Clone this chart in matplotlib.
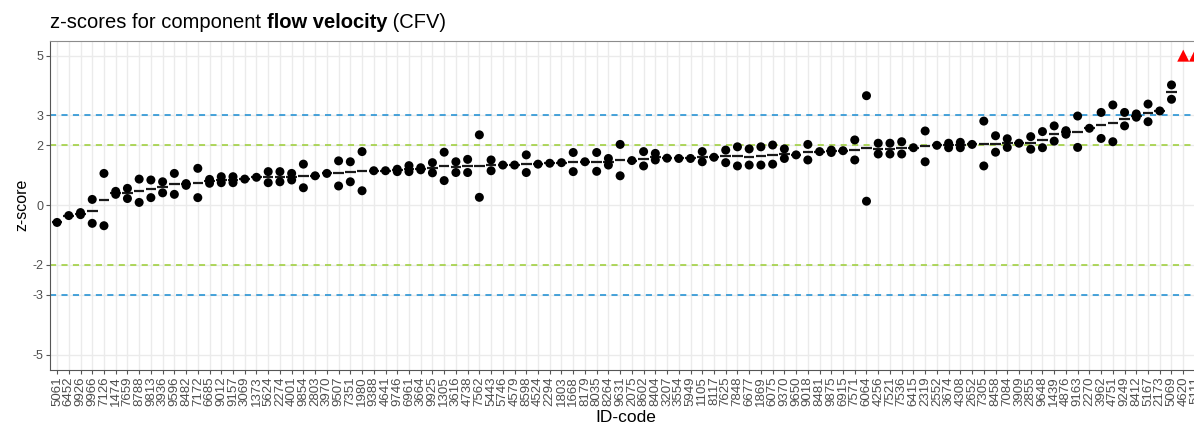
import numpy as np
import matplotlib
matplotlib.use("Agg")
from matplotlib import pyplot as plt

plt.rcParams['font.family'] = ['Liberation Sans', 'DejaVu Sans']
plt.rcParams['axes.unicode_minus'] = False

# lab codes, ordered as on the x axis
labs = ["5061", "6452", "9926", "9966", "7126", "1474", "7659", "8788", "9813", "3936",
        "9596", "8482", "7172", "6685", "9012", "9157", "3069", "1373", "5624", "2274",
        "4001", "9854", "2803", "3970", "9507", "7351", "1980", "9388", "4641", "9746",
        "6961", "3664", "9925", "1305", "3616", "4738", "7562", "5443", "5746", "4579",
        "8598", "4524", "2294", "1803", "1668", "8179", "8035", "8264", "9631", "2075",
        "8602", "8404", "3207", "3554", "5949", "1105", "8117", "7625", "7848", "6677",
        "1869", "6075", "9370", "9650", "9018", "8481", "9875", "6915", "7571", "6064",
        "4256", "7521", "7536", "6415", "2319", "2552", "3674", "4308", "2652", "7305",
        "8458", "7084", "3909", "2855", "9648", "1439", "4876", "9163", "2270", "3962",
        "4751", "9249", "8412", "5167", "2173", "5069", "4620", "5111"]

nan = np.nan
# first and second replicate z-scores (nan = only one point visible)
z_rep1 = [-0.58, -0.35, -0.25, 0.19, 1.06, 0.46, 0.56, 0.87, 0.84, 0.78,
          1.06, 0.72, 1.23, 0.86, 0.95, 0.95, 0.87, 0.93, 1.12, 1.12,
          1.06, 1.37, 0.98, 1.06, 1.48, 1.45, 1.79, 1.15, 1.15, 1.20,
          1.32, 1.25, 1.42, 1.77, 1.45, 1.53, 2.35, 1.51, 1.34, 1.34,
          1.68, 1.37, 1.40, 1.42, 1.76, 1.45, 1.76, 1.56, 2.03, 1.49,
          1.79, 1.73, 1.57, 1.56, 1.56, 1.79, 1.60, 1.84, 1.95, 1.88,
          1.95, 2.01, 1.88, 1.68, 2.03, 1.79, 1.84, 1.82, 2.18, 3.66,
          2.07, 2.07, 2.12, 1.92, 2.48, 2.00, 2.07, 2.10, 2.03, 2.81,
          2.32, 2.22, 2.07, 2.29, 2.46, 2.65, 2.49, 2.98, 2.57, 3.10,
          3.35, 3.10, 3.05, 3.38, 3.15, 4.02, 7.0, 7.0]
z_rep2 = [nan, nan, -0.32, -0.61, -0.69, 0.36, 0.22, 0.09, 0.25, 0.41,
          0.36, 0.66, 0.25, 0.73, 0.75, 0.75, nan, nan, 0.75, 0.78,
          0.84, 0.58, nan, nan, 0.64, 0.78, 0.48, nan, nan, 1.12,
          1.12, 1.18, 1.08, 0.82, 1.09, 1.09, 0.26, 1.15, nan, nan,
          1.09, nan, nan, nan, 1.12, nan, 1.13, 1.34, 0.98, nan,
          1.31, 1.51, nan, nan, nan, 1.45, nan, 1.42, 1.31, 1.34,
          1.34, 1.37, 1.56, nan, 1.51, nan, 1.76, nan, 1.51, 0.13,
          1.71, 1.71, 1.71, nan, 1.45, nan, 1.92, 1.92, nan, 1.31,
          1.77, 1.93, nan, 1.87, 1.92, 2.14, 2.37, 1.93, nan, 2.23,
          2.12, 2.65, 2.94, 2.79, nan, 3.54, nan, nan]

y_ticks = [-5, -3, -2, 0, 2, 3, 5]
z_limit = 5

z = np.array([z_rep1, z_rep2], dtype=float).T
x = np.arange(len(labs))
mean_z = np.nanmean(z, axis=1)
inside = mean_z <= z_limit

fig = plt.figure(figsize=(11.94, 4.23), dpi=100)
# panel runs off the right edge like the reference
ax = fig.add_axes([50 / 1194, 1 - 369.5 / 423, 1152 / 1194, (369.5 - 40.7) / 423])

ax.set_xlim(-0.6, len(labs) - 0.4)
ax.set_ylim(-5.5, 5.5)

for xi in x:
    ax.axvline(xi, color="#ebebeb", lw=1.0, zorder=0)
for yt in y_ticks:
    ax.axhline(yt, color="#ebebeb", lw=1.0, zorder=0)

for v, c in [(2, "#9acd32"), (-2, "#9acd32"), (3, "#168bd2"), (-3, "#168bd2")]:
    ax.axhline(v, color=c, lw=1.1, ls=(0, (4, 3.5)), zorder=1)

# mean per lab
ax.hlines(mean_z[inside], x[inside] - 0.45, x[inside] + 0.45, color="#1a1a1a", lw=1.6, zorder=2)
for k in range(z.shape[1]):
    ax.scatter(x[inside], z[inside, k], s=42, color="black", edgecolors="none", zorder=3)
# values beyond the scale shown as triangles on the limit
ax.scatter(x[~inside], np.full((~inside).sum(), z_limit), marker="^", s=75,
           color="red", edgecolors="none", zorder=3, clip_on=False)

ax.set_xticks(x)
ax.set_xticklabels(labs, rotation=90, ha="center", va="top")
ax.set_yticks(y_ticks)
ax.tick_params(axis="both", colors="#555555", labelcolor="#4d4d4d", labelsize=9,
               length=3, width=0.8, pad=2)
ax.tick_params(axis="x", labelsize=9.5)
for s in ax.spines.values():
    s.set_color("#8c8c8c")
    s.set_linewidth(0.8)
ax.spines["left"].set_color("#555555")
ax.spines["bottom"].set_color("#555555")

ax.set_ylabel("z-score", fontsize=11.5, labelpad=2)
ax.set_xlabel("ID-code", fontsize=12.5, labelpad=3)

t1 = fig.text(50 / 1194, 1 - 28 / 423, "z-scores for component ", fontsize=14.5, va="baseline")
t2 = ax.annotate("flow velocity", xy=(1, 0), xycoords=t1, fontsize=14.5,
                 fontweight="bold", va="bottom", ha="left")
t3 = ax.annotate(" (CFV)", xy=(1, 0), xycoords=t2, fontsize=14.5, va="bottom", ha="left")

fig.savefig("out.png", dpi=100)
